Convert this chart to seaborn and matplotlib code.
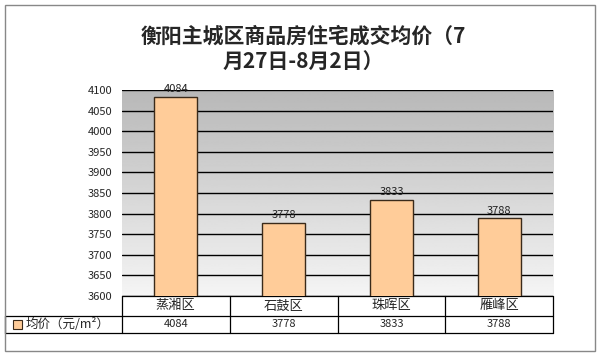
import numpy as np
import pandas as pd
import matplotlib
matplotlib.use('Agg')
import matplotlib.pyplot as plt
import seaborn as sns
from matplotlib.patches import Rectangle

districts = ['蒸湘区', '石鼓区', '珠晖区', '雁峰区']
avg_price = [4084, 3778, 3833, 3788]
series_name = '均价（元/m²）'
title = '衡阳主城区商品房住宅成交均价（7\n月27日-8月2日）'

sns.set_theme(style='white')
plt.rcParams['font.family'] = ['Noto Sans CJK SC', 'DejaVu Sans']

df = pd.DataFrame({'district': districts, 'price': avg_price})

fig = plt.figure(figsize=(6, 3.6), dpi=100)
fig.patch.set_facecolor('white')
ax = fig.add_axes([0.203, 0.178, 0.719, 0.572])

# gradient background
grad = np.linspace(0.72, 0.96, 256).reshape(-1, 1)
ax.imshow(grad, cmap='gray', vmin=0, vmax=1, aspect='auto',
          extent=[0, 1, 0, 1], transform=ax.transAxes, zorder=0)

sns.barplot(data=df, x='district', y='price', color='#FFCC99', width=0.4,
            edgecolor='#3a2a1a', linewidth=1, saturation=1, ax=ax, zorder=3)
ax.set_ylim(3600, 4100)
ax.set_yticks(np.arange(3600, 4101, 50))
ax.yaxis.grid(True, color='black', linewidth=1)
ax.set_axisbelow(False)
for ln in ax.get_ygridlines():
    ln.set_zorder(1)
ax.set_xlim(-0.5, 3.5)
ax.set_xlabel('')
ax.set_ylabel('')
ax.set_xticks([])
ax.tick_params(axis='y', labelsize=8, length=0, pad=7)
for s in ax.spines.values():
    s.set_visible(False)

for i, v in enumerate(avg_price):
    ax.text(i, v + 6, str(v), ha='center', va='bottom', fontsize=8, color='#222222')

# data table under plot
tr = ax.transAxes
px_h = 1 / (0.572 * 360)
px_w = 1 / (0.719 * 600)
r1 = -20 * px_h
r2 = -37 * px_h
left_ext = -117 * px_w
kw = dict(color='black', linewidth=0.9, transform=tr, clip_on=False)
ax.plot([0, 1], [0, 0], **kw)
ax.plot([0, 1], [r1, r1], **kw)
ax.plot([left_ext, 1], [r2, r2], **kw)
for k in range(5):
    ax.plot([k / 4, k / 4], [0, r2], **kw)
ax.plot([left_ext, left_ext], [r1, r2], **kw)
ax.plot([left_ext, 0], [r1, r1], **kw)
for i, (d, v) in enumerate(zip(districts, avg_price)):
    xc = (i + 0.5) / 4
    ax.text(xc, r1 / 2, d, ha='center', va='center', fontsize=9.5, transform=tr)
    ax.text(xc, (r1 + r2) / 2, str(v), ha='center', va='center', fontsize=8, transform=tr)
ax.add_patch(Rectangle((left_ext + 8 * px_w, (r1 + r2) / 2 - 4.5 * px_h), 9 * px_w, 9 * px_h,
                       facecolor='#FFCC99', edgecolor='#3a2a1a', linewidth=0.8,
                       transform=tr, clip_on=False))
ax.text(left_ext + 21 * px_w, (r1 + r2) / 2, series_name, ha='left', va='center',
        fontsize=9, transform=tr)

fig.text(0.505, 0.865, title, ha='center', va='center', fontsize=15,
         fontweight='bold', linespacing=1.25)

# chart border
fig.add_artist(Rectangle((0.008, 0.025), 0.984, 0.96, transform=fig.transFigure,
                         fill=False, edgecolor='#888888', linewidth=1))

fig.savefig('out.png', dpi=100)
